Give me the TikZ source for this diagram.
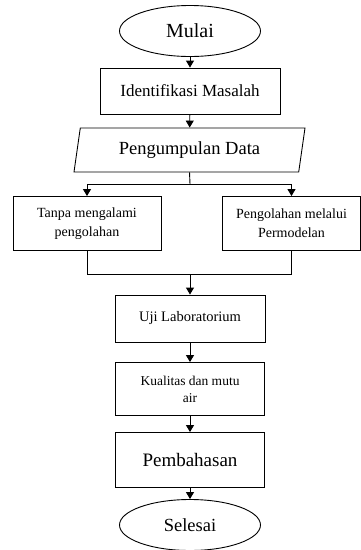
\documentclass[tikz,border=0pt]{standalone}
\usepackage{fontspec}
\setmainfont{Liberation Serif}
\usetikzlibrary{arrows.meta,shapes.geometric}

\begin{document}
\begin{tikzpicture}[x=1pt, y=-1pt,
    box/.style={draw=black, line width=0.9pt, align=center, inner sep=2pt},
    term/.style={draw=black, line width=0.9pt, ellipse, minimum width=141pt,
                 minimum height=51pt, inner sep=0pt},
    data/.style={draw=black, line width=0.9pt, trapezium, trapezium left angle=75,
                 trapezium right angle=105, trapezium stretches body,
                 minimum width=231pt, minimum height=44pt},
    arrow/.style={-{Triangle[length=7pt,width=8pt]}, line width=0.9pt},
    line/.style={line width=0.9pt}
  ]
    \useasboundingbox (0,0) rectangle (361,550);

    \node[term, font=\fontsize{20}{24}\selectfont] (mulai) at (190,31) {Mulai};
    \node[box, minimum width=180pt, minimum height=46pt, font=\fontsize{17}{20}\selectfont]
      (identifikasi) at (190,91) {Identifikasi Masalah};
    \node[data, font=\fontsize{18.5}{22}\selectfont] (pengumpulan) at (189.5,150) {Pengumpulan Data};
    \node[box, minimum width=148pt, minimum height=54pt, font=\fontsize{14}{19}\selectfont]
      (tanpa) at (87,223.5) {Tanpa mengalami\\pengolahan};
    \node[box, minimum width=138pt, minimum height=54pt, font=\fontsize{14}{19}\selectfont]
      (permodelan) at (291.5,223.5) {Pengolahan melalui\\Permodelan};
    \node[box, minimum width=150pt, minimum height=47pt, font=\fontsize{14.5}{18}\selectfont]
      (uji) at (190,318.5) {Uji Laboratorium};
    \node[box, minimum width=149pt, minimum height=53pt, font=\fontsize{13.5}{17}\selectfont]
      (kualitas) at (190,389) {Kualitas dan mutu\\air};
    \node[box, minimum width=149pt, minimum height=55pt, font=\fontsize{19}{23}\selectfont]
      (pembahasan) at (190,460) {Pembahasan};
    \node[term, font=\fontsize{18.5}{22}\selectfont] (selesai) at (190,525) {Selesai};

    \coordinate (split) at (190,184);
    \coordinate (join)  at (190,274);

    \draw[arrow] (mulai) -- (identifikasi);
    \draw[arrow] (identifikasi) -- (pengumpulan);

    % branch to both processing paths
    \draw[line]  (pengumpulan.south) -- (split);
    \draw[arrow] (split) -| (tanpa.north);
    \draw[arrow] (split) -| (permodelan.north);

    % paths meet again
    \draw[line]  (tanpa.south) |- (join);
    \draw[line]  (permodelan.south) |- (join);
    \draw[arrow] (join) -- (uji);

    \draw[arrow] (uji) -- (kualitas);
    \draw[arrow] (kualitas) -- (pembahasan);
    \draw[arrow] (pembahasan) -- (selesai);
  \end{tikzpicture}
\end{document}
